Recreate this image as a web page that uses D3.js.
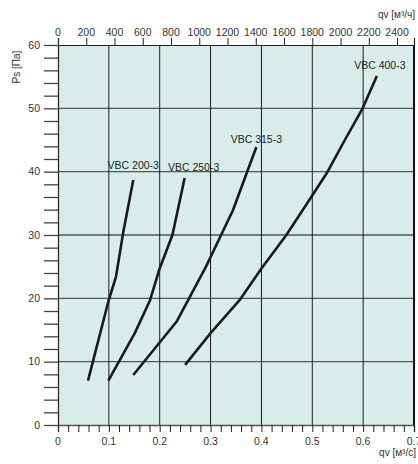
<!DOCTYPE html>
<html><head><meta charset="utf-8">
<script src="https://cdn.jsdelivr.net/npm/d3@7"></script>
<style>
html,body{margin:0;padding:0;background:#fff;}
svg{display:block;font-family:"Liberation Sans",Arial,sans-serif;}
</style></head>
<body><svg id="c" width="418" height="464"></svg>
<script>
// ---- data ----
const seriesNames = ["VBC 200-3", "VBC 250-3", "VBC 315-3", "VBC 400-3"];
const vbc200Q = [0.059, 0.099, 0.114, 0.128, 0.148];
const vbc200P = [7.0, 19.5, 23.4, 30.3, 38.7];
const vbc250Q = [0.099, 0.151, 0.181, 0.199, 0.225, 0.249];
const vbc250P = [7.0, 14.5, 19.7, 24.5, 30.0, 39.0];
const vbc315Q = [0.148, 0.233, 0.291, 0.344, 0.390];
const vbc315P = [7.9, 16.3, 25.0, 33.9, 43.9];
const vbc400Q = [0.250, 0.300, 0.357, 0.400, 0.449, 0.498, 0.528, 0.564, 0.599, 0.627];
const vbc400P = [9.5, 14.5, 19.7, 24.7, 30.0, 36.0, 39.7, 45.0, 50.0, 55.1];
const bottomTickLabels = ["0", "0.1", "0.2", "0.3", "0.4", "0.5", "0.6", "0.7"];
const leftTickLabels = ["0", "10", "20", "30", "40", "50", "60"];
const topTickLabels = ["0","200","400","600","800","1000","1200","1400","1600","1800","2000","2200","2400"];
const xTitleBottom = "qv [м³/с]";
const xTitleTop = "qv [м³/ч]";
const yTitle = "Ps [Па]";

// ---- build ----
const seriesQ = [vbc200Q, vbc250Q, vbc315Q, vbc400Q];
const seriesP = [vbc200P, vbc250P, vbc315P, vbc400P];
const labelOffsets = [[0, -11], [9, -7], [0, -4], [3, -7]];

const svg = d3.select("#c");
const x = d3.scaleLinear().domain([0, 0.7]).range([58, 414]);
const xTop = d3.scaleLinear().domain([0, 0.7 * 3600]).range([58, 414]);
const y = d3.scaleLinear().domain([0, 60]).range([425, 45]);

// background
svg.append("rect").attr("x", x(0)).attr("y", y(60))
  .attr("width", x(0.7) - x(0)).attr("height", y(0) - y(60))
  .attr("fill", "#d8edea");

// horizontal gridlines
const hVals = leftTickLabels.map(Number).filter(v => v > 0 && v < 60);
svg.append("g").selectAll("line").data(hVals).join("line")
  .attr("x1", x(0)).attr("x2", x(0.7))
  .attr("y1", d => y(d)).attr("y2", d => y(d))
  .attr("stroke", "#555").attr("stroke-width", 1.4);

// vertical gridlines
const vVals = bottomTickLabels.map(Number).filter(v => v > 0 && v < 0.7);
svg.append("g").selectAll("line").data(vVals).join("line")
  .attr("x1", d => x(d)).attr("x2", d => x(d))
  .attr("y1", y(60)).attr("y2", y(0))
  .attr("stroke", "#1a1a1a").attr("stroke-width", 1);

// right border
svg.append("line").attr("x1", x(0.7)).attr("x2", x(0.7)).attr("y1", y(60)).attr("y2", y(0))
  .attr("stroke", "#111").attr("stroke-width", 2);

// bottom axis
const bottomAxis = d3.axisBottom(x)
  .tickValues(d3.range(0, 36).map(i => i * 0.02))
  .tickSize(7)
  .tickFormat(() => "");
const gb = svg.append("g").attr("transform", `translate(0,${y(0)})`).call(bottomAxis);
gb.select(".domain").attr("stroke", "#555").attr("stroke-width", 1.4);
gb.selectAll(".tick line").attr("stroke", "#222");
svg.append("g").selectAll("text").data(bottomTickLabels).join("text")
  .attr("x", d => x(+d)).attr("y", 445)
  .attr("text-anchor", "middle").attr("font-size", 10.5).attr("fill", "#333")
  .text(d => d);
svg.append("text").attr("x", 416).attr("y", 456).attr("text-anchor", "end")
  .attr("font-size", 10).attr("fill", "#333").text(xTitleBottom);

// left axis
const leftAxis = d3.axisLeft(y)
  .tickValues(d3.range(0, 31).map(i => i * 2))
  .tickSize(14)
  .tickFormat(() => "");
const gl = svg.append("g").attr("transform", `translate(${x(0)},0)`).call(leftAxis);
gl.select(".domain").attr("stroke", "#222").attr("stroke-width", 1.2);
gl.selectAll(".tick line").attr("stroke", "#444").attr("stroke-width", 1.3);
svg.append("g").selectAll("text").data(leftTickLabels).join("text")
  .attr("x", 40).attr("y", d => y(+d) + 3.5)
  .attr("text-anchor", "end").attr("font-size", 10.5).attr("fill", "#333")
  .text(d => d);
svg.append("text").attr("transform", `translate(20,67) rotate(-90)`)
  .attr("text-anchor", "middle").attr("font-size", 10).attr("fill", "#333").text(yTitle);

// top axis
const topAxis = d3.axisTop(xTop)
  .tickValues(topTickLabels.map(Number))
  .tickSize(7)
  .tickFormat(() => "");
const gt = svg.append("g").attr("transform", `translate(0,${y(60)})`).call(topAxis);
gt.select(".domain").attr("stroke", "#222").attr("stroke-width", 1.2);
gt.selectAll(".tick line").attr("stroke", "#222");
svg.append("g").selectAll("text").data(topTickLabels).join("text")
  .attr("x", d => xTop(+d)).attr("y", 36)
  .attr("text-anchor", "middle").attr("font-size", 10.5).attr("fill", "#333")
  .text(d => d);
svg.append("text").attr("x", 415).attr("y", 18).attr("text-anchor", "end")
  .attr("font-size", 10).attr("fill", "#333").text(xTitleTop);

// curves
const line = d3.line().x(d => x(d[0])).y(d => y(d[1]));
seriesNames.forEach((name, i) => {
  const pts = seriesQ[i].map((q, j) => [q, seriesP[i][j]]);
  svg.append("path").datum(pts).attr("d", line)
    .attr("fill", "none").attr("stroke", "#1a1a1a").attr("stroke-width", 2.6)
    .attr("stroke-linejoin", "round");
  const last = pts[pts.length - 1];
  svg.append("text")
    .attr("x", x(last[0]) + labelOffsets[i][0])
    .attr("y", y(last[1]) + labelOffsets[i][1])
    .attr("text-anchor", "middle").attr("font-size", 10.5).attr("fill", "#222")
    .text(name);
});
</script></body></html>
